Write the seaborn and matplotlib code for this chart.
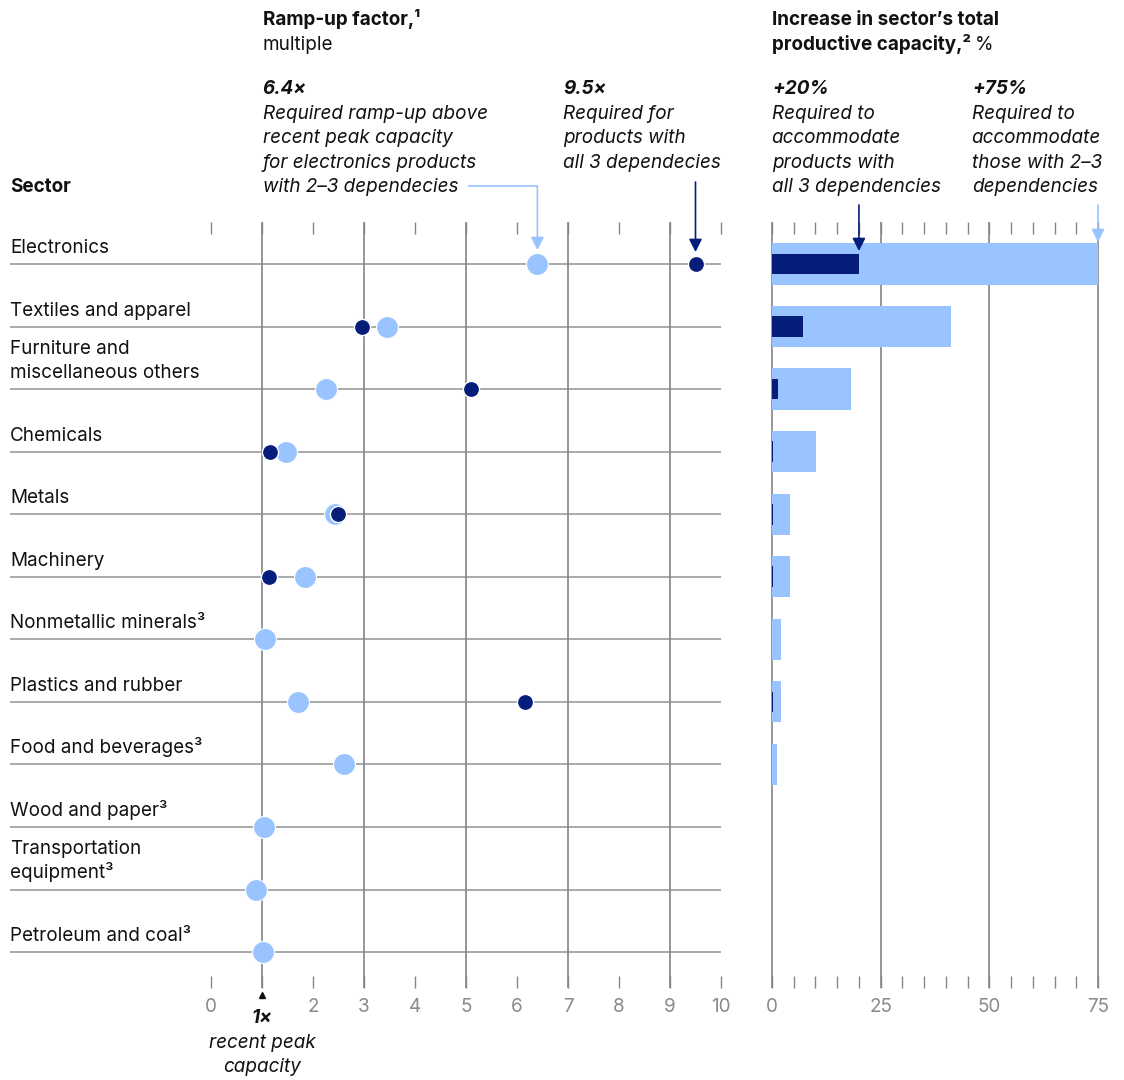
import numpy as np
import pandas as pd
import matplotlib
matplotlib.use("Agg")
import matplotlib.pyplot as plt
import seaborn as sns

# ---------------------------------------------------------------- data
sectors = [
    "Electronics",
    "Textiles and apparel",
    "Furniture and\nmiscellaneous others",
    "Chemicals",
    "Metals",
    "Machinery",
    "Nonmetallic minerals³",
    "Plastics and rubber",
    "Food and beverages³",
    "Wood and paper³",
    "Transportation\nequipment³",
    "Petroleum and coal³",
]
# ramp-up factor (multiple of recent peak capacity)
ramp_two_three = [6.4, 3.45, 2.25, 1.47, 2.43, 1.85, 1.06, 1.71, 2.61, 1.04, 0.88, 1.02]
ramp_all_three = [9.5, 2.97, 5.09, 1.16, 2.49, 1.14, np.nan, 6.16, np.nan, np.nan, np.nan, np.nan]
# increase in sector's total productive capacity, %
cap_two_three = [75, 41.2, 18.2, 10.1, 4.1, 4.1, 2.1, 2.1, 1.2, 0, 0, 0]
cap_all_three = [20, 7.1, 1.4, 0.3, 0.3, 0.2, 0, 0.3, 0, 0, 0, 0]

ramp_ticks = list(range(11))
ramp_tick_labels = ["0", "", "2", "3", "4", "5", "6", "7", "8", "9", "10"]
cap_ticks = [0, 25, 50, 75]
cap_minor_ticks = list(range(0, 80, 5))

# ---------------------------------------------------------------- style
LIGHT = "#99C4FF"
NAVY = "#061E7A"
GRID = "#858585"
ROWLINE = "#a3a3a3"
TICKTXT = "#8a8a8a"
INK = "#111111"
FS = 13.6

sns.set_style("white")
plt.rcParams["font.family"] = ["Inter", "DejaVu Sans"]
plt.rcParams["font.size"] = FS

W, H = 1124, 1080
fig = plt.figure(figsize=(W / 100, H / 100), dpi=100)


def fx(px):
    return px / W


def fy(py):
    return 1 - py / H


AX_TOP, AX_BOT = 222, 988
ROW0, ROW_STEP = 264, 62.55


def row_at(py):
    return (py - ROW0) / ROW_STEP


n = len(sectors)
ylims = (row_at(AX_BOT), row_at(AX_TOP))

axl = fig.add_axes([fx(10), fy(AX_BOT), fx(721 - 10), (AX_BOT - AX_TOP) / H])
axr = fig.add_axes([fx(772), fy(AX_BOT), fx(1098 - 772), (AX_BOT - AX_TOP) / H])

df = pd.DataFrame({
    "sector": sectors,
    "row": np.arange(n),
    "ramp_two_three": ramp_two_three,
    "ramp_all_three": ramp_all_three,
    "cap_two_three": cap_two_three,
    "cap_all_three": cap_all_three,
})

# ---------------------------------------------------------------- left panel: ramp-up dots
xmin_l = -(211 - 10) / 51.0
axl.hlines(df["row"], xmin_l, 10, color=ROWLINE, lw=1.3, zorder=1)
axl.vlines([1, 3, 5, 7, 9], ylims[0], ylims[1], color=GRID, lw=1.2, zorder=1)

sns.scatterplot(data=df, x="ramp_two_three", y="row", s=250, color=LIGHT,
                edgecolor="white", linewidth=0.8, ax=axl, zorder=3, legend=False)
sns.scatterplot(data=df, x="ramp_all_three", y="row", s=135, color=NAVY,
                edgecolor="white", linewidth=1.0, ax=axl, zorder=4, legend=False)

axl.set_xlim(xmin_l, 10)
axl.set_ylim(*ylims)
axl.set_xticks(ramp_ticks, ramp_tick_labels)
axl.tick_params(axis="x", which="major", direction="in", length=8.5, width=1.0,
                color=GRID, top=True, bottom=True, labeltop=False, labelbottom=True,
                labelsize=FS, labelcolor=TICKTXT, pad=7)
axl.set_yticks([])
axl.set_xlabel("")
axl.set_ylabel("")
for sp in axl.spines.values():
    sp.set_visible(False)

# sector labels sit just above their row line
for i, name in enumerate(sectors):
    parts = name.split("\n")
    for k, part in enumerate(parts):
        off = 11 + 24.5 * (len(parts) - 1 - k)
        axl.annotate(part, xy=(xmin_l, i), xytext=(0, off), textcoords="offset pixels",
                     ha="left", va="baseline", fontsize=FS, color=INK,
                     annotation_clip=False)

# ---------------------------------------------------------------- right panel: capacity bars
axr.vlines(cap_ticks, ylims[0], ylims[1], color=GRID, lw=1.2, zorder=1, clip_on=False)
sns.barplot(data=df, x="cap_two_three", y="sector", order=sectors, orient="h",
            color=LIGHT, saturation=1, width=0.66, errorbar=None, ax=axr, zorder=2,
            linewidth=0, edgecolor="none")
sns.barplot(data=df, x="cap_all_three", y="sector", order=sectors, orient="h",
            color=NAVY, saturation=1, width=0.33, errorbar=None, ax=axr, zorder=3,
            linewidth=0, edgecolor="none")
axr.set_xlim(0, 75)
axr.set_ylim(*ylims)
axr.set_xticks(cap_ticks, [str(t) for t in cap_ticks])
axr.set_xticks(cap_minor_ticks, minor=True)
axr.tick_params(axis="x", which="both", direction="in", length=8.5, width=1.0,
                color=GRID, top=True, bottom=True, labeltop=False, labelbottom=True,
                labelsize=FS, labelcolor=TICKTXT, pad=7)
axr.tick_params(axis="y", left=False, labelleft=False)
axr.set_xlabel("")
axr.set_ylabel("")
for sp in axr.spines.values():
    sp.set_visible(False)

# ---------------------------------------------------------------- headers
def ftext(x, y, s, **kw):
    kw.setdefault("fontsize", FS)
    kw.setdefault("color", INK)
    return fig.text(fx(x), fy(y), s, ha="left", va="baseline", **kw)


LS = 24.5
ftext(263, 25, "Ramp-up factor,¹", fontweight="bold")
ftext(263, 25 + LS, "multiple")

ftext(263, 94, "6.4×", fontweight="bold", fontstyle="italic")
note_lines = ["Required ramp-up above", "recent peak capacity",
              "for electronics products", "with 2–3 dependecies"]
last = None
for k, s in enumerate(note_lines):
    last = ftext(263, 94 + LS * (k + 1), s, fontstyle="italic")
ftext(10, 94 + LS * 4, "Sector", fontweight="bold")

ftext(563, 94, "9.5×", fontweight="bold", fontstyle="italic")
for k, s in enumerate(["Required for", "products with", "all 3 dependecies"]):
    ftext(563, 94 + LS * (k + 1), s, fontstyle="italic")

ftext(772, 25, "Increase in sector’s total", fontweight="bold")
bold_part = ftext(772, 25 + LS, "productive capacity,²", fontweight="bold")

ftext(772, 94, "+20%", fontweight="bold", fontstyle="italic")
for k, s in enumerate(["Required to", "accommodate", "products with", "all 3 dependencies"]):
    ftext(772, 94 + LS * (k + 1), s, fontstyle="italic")

ftext(972, 94, "+75%", fontweight="bold", fontstyle="italic")
for k, s in enumerate(["Required to", "accommodate", "those with 2–3", "dependencies"]):
    ftext(972, 94 + LS * (k + 1), s, fontstyle="italic")

renderer = fig.canvas.get_renderer()
bb = bold_part.get_window_extent(renderer)
fig.text(bb.x1 / W + 4 / W, fy(25 + LS), "%", ha="left", va="baseline",
         fontsize=FS, color=INK)

# ---------------------------------------------------------------- callout arrows
arrow_kw = dict(arrowstyle="-|>,head_length=0.55,head_width=0.28", mutation_scale=14,
                shrinkA=0, shrinkB=0, lw=1.2)

# light leader from the 2–3 dependency note to the electronics dot
tb = last.get_window_extent(renderer)
x_start = axl.transData.inverted().transform((tb.x1 + 9, 0))[0]
y_lead = row_at(186)
e_two = ramp_two_three[0]
axl.plot([x_start, e_two], [y_lead, y_lead], color=LIGHT, lw=1.2, clip_on=False,
         solid_capstyle="butt")
axl.annotate("", xy=(e_two, row_at(250)), xytext=(e_two, y_lead),
             arrowprops=dict(color=LIGHT, **arrow_kw), annotation_clip=False)

e_all = ramp_all_three[0]
axl.annotate("", xy=(e_all, row_at(252)), xytext=(e_all, row_at(182)),
             arrowprops=dict(color=NAVY, **arrow_kw), annotation_clip=False)

axr.annotate("", xy=(cap_all_three[0], row_at(251)), xytext=(cap_all_three[0], row_at(205)),
             arrowprops=dict(color=NAVY, **arrow_kw), annotation_clip=False)
axr.annotate("", xy=(cap_two_three[0], row_at(242)), xytext=(cap_two_three[0], row_at(205)),
             arrowprops=dict(color=LIGHT, **arrow_kw), annotation_clip=False)

# ---------------------------------------------------------------- 1x reference marker
axl.plot([1], [row_at(995)], marker="^", markersize=5, color=INK, clip_on=False)
axl.text(1, row_at(1023), "1×", ha="center", va="baseline", fontsize=FS,
         fontweight="bold", fontstyle="italic", color=INK)
axl.text(1, row_at(1048), "recent peak", ha="center", va="baseline", fontsize=FS,
         fontstyle="italic", color=INK)
axl.text(1, row_at(1072), "capacity", ha="center", va="baseline", fontsize=FS,
         fontstyle="italic", color=INK)

fig.savefig("out.png", dpi=100)
